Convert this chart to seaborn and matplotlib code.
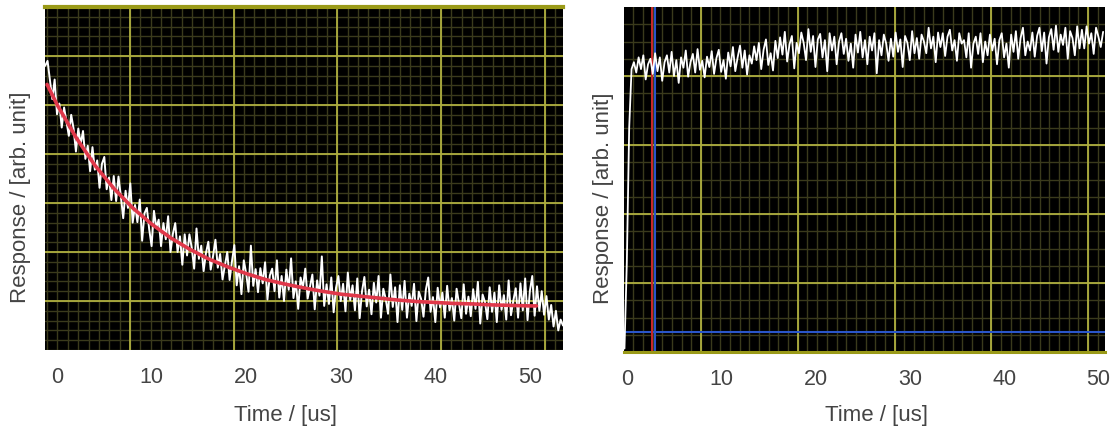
import numpy as np
import pandas as pd
import matplotlib.pyplot as plt
import seaborn as sns

# left panel: decay trace, sampled every 0.25 us starting at -1.25 us
decay_t0, decay_dt = -1.25, 0.25
decay_signal = [
    5.80, 5.90, 5.51, 5.12, 5.52, 4.81, 5.03, 4.54, 4.95, 4.66,
    4.37, 4.80, 4.52, 4.05, 4.52, 4.20, 4.47, 3.90, 4.17, 3.65,
    4.14, 3.68, 3.87, 3.31, 3.80, 3.94, 3.28, 3.52, 3.06, 3.55,
    3.04, 3.54, 3.14, 2.69, 3.25, 2.90, 3.40, 2.60, 2.96, 2.61,
    3.07, 2.23, 2.79, 2.90, 2.46, 2.12, 2.84, 2.50, 2.66, 2.12,
    2.59, 2.26, 2.73, 2.00, 2.37, 2.59, 2.00, 2.32, 1.74, 2.36,
    1.93, 2.36, 2.08, 1.66, 2.48, 1.86, 2.13, 1.61, 1.98, 2.21,
    1.64, 1.92, 2.25, 1.68, 1.96, 1.44, 1.72, 2.00, 1.43, 1.81,
    2.14, 1.32, 1.71, 1.14, 1.83, 1.56, 1.19, 2.13, 1.31, 1.65,
    1.18, 1.67, 1.36, 1.79, 1.03, 1.52, 1.66, 1.20, 1.83, 1.07,
    1.51, 1.00, 1.64, 1.23, 1.87, 1.06, 1.40, 0.84, 1.48, 1.27,
    1.66, 1.05, 1.29, 1.54, 0.83, 1.42, 1.11, 1.91, 0.90, 1.34,
    0.94, 1.48, 0.77, 1.27, 1.51, 1.00, 1.35, 0.79, 1.58, 1.02,
    1.32, 0.81, 1.46, 0.65, 1.20, 1.49, 0.89, 1.23, 0.73, 1.37,
    0.97, 1.51, 0.66, 1.25, 1.05, 0.74, 1.54, 0.88, 1.28, 0.57,
    1.32, 0.82, 1.41, 0.66, 1.15, 0.90, 1.35, 0.59, 1.19, 1.04,
    0.68, 1.23, 1.48, 0.78, 1.08, 0.57, 1.27, 0.87, 1.17, 0.66,
    1.31, 0.81, 1.06, 0.60, 1.25, 0.95, 0.65, 1.34, 0.74, 1.09,
    0.69, 1.24, 0.84, 1.39, 0.54, 1.13, 0.98, 0.63, 1.28, 0.78,
    1.17, 0.57, 1.32, 0.82, 1.12, 0.62, 1.42, 0.71, 1.01, 1.26,
    0.66, 1.36, 0.81, 1.46, 0.61, 1.21, 1.51, 0.70, 1.30, 0.80,
    1.20, 0.72, 1.10, 0.62, 0.92, 0.48, 0.80, 0.40, 0.62, 0.50,
]

# red fitted curve on the left panel
fit_t = [-1.05, 0, 2, 4, 6, 8, 10, 12, 14, 16, 18, 20, 22, 24, 26,
         28, 30, 32, 34, 36, 38, 40, 42, 44, 46, 48, 50, 50.7]
fit_y = [5.42, 5.01, 4.34, 3.77, 3.30, 2.90, 2.57, 2.29, 2.06, 1.86,
         1.70, 1.56, 1.44, 1.35, 1.27, 1.20, 1.14, 1.10, 1.06, 1.02,
         0.99, 0.97, 0.95, 0.94, 0.92, 0.91, 0.90, 0.90]

# right panel: step response, sampled every 0.25 us starting at -0.25 us
step_t0, step_dt = -0.25, 0.25
step_signal = [
    0.05, 1.30, 3.25, 4.10,
    4.20, 4.05, 4.27, 4.10, 4.30, 3.95, 4.17, 4.25, 4.03, 4.33,
    4.07, 4.27, 3.93, 4.20, 4.30, 4.05, 4.35, 4.00, 4.23, 3.90,
    4.27, 4.12, 4.37, 3.99, 4.20, 4.32, 4.05, 4.39, 4.09, 4.22,
    3.98, 4.28, 4.13, 4.36, 4.03, 4.26, 4.38, 4.06, 4.23, 3.96,
    4.34, 4.14, 4.42, 4.07, 4.27, 4.44, 4.12, 4.37, 4.02, 4.30,
    4.18, 4.43, 4.23, 4.48, 4.10, 4.38, 4.53, 4.16, 4.33, 4.08,
    4.51, 4.26, 4.56, 4.31, 4.64, 4.21, 4.46, 4.58, 4.11, 4.48,
    4.33, 4.63, 4.48, 4.23, 4.68, 4.35, 4.58, 4.13, 4.53, 4.61,
    4.27, 4.52, 4.07, 4.62, 4.37, 4.57, 4.17, 4.50, 4.62, 4.32,
    4.54, 4.22, 4.47, 4.12, 4.60, 4.34, 4.64, 4.27, 4.52, 4.17,
    4.57, 4.37, 4.62, 4.04, 4.52, 4.30, 4.60, 4.47, 4.22, 4.54,
    4.28, 4.63, 4.35, 4.53, 4.13, 4.58, 4.48, 4.23, 4.65, 4.33,
    4.55, 4.25, 4.60, 4.50, 4.33, 4.70, 4.40, 4.57, 4.20, 4.63,
    4.42, 4.62, 4.29, 4.57, 4.67, 4.37, 4.52, 4.22, 4.62, 4.47,
    4.52, 4.27, 4.62, 4.12, 4.47, 4.57, 4.32, 4.62, 4.20, 4.50,
    4.30, 4.60, 4.37, 4.54, 4.17, 4.52, 4.62, 4.27, 4.47, 4.12,
    4.60, 4.35, 4.65, 4.25, 4.55, 4.70, 4.30, 4.50, 4.37, 4.63,
    4.28, 4.58, 4.70, 4.36, 4.63, 4.18, 4.56, 4.68, 4.38, 4.73,
    4.35, 4.60, 4.45, 4.70, 4.25, 4.65, 4.55, 4.30, 4.72, 4.40,
    4.67, 4.40, 4.72, 4.47, 4.62, 4.32, 4.70, 4.57, 4.42, 4.64,
]
cursor_red_t = 2.7
cursor_blue_t = 3.0
baseline_level = 0.29

time_ticks = [0, 10, 20, 30, 40, 50]

decay = pd.DataFrame({"t": decay_t0 + decay_dt * np.arange(len(decay_signal)),
                      "y": decay_signal})
fit = pd.DataFrame({"t": fit_t, "y": fit_y})
step = pd.DataFrame({"t": step_t0 + step_dt * np.arange(len(step_signal)),
                     "y": step_signal})

sns.set_theme(style="white")
plt.rcParams["font.family"] = ["Liberation Sans", "DejaVu Sans"]
text_col = "#444444"
major_col = "#b0b040"
minor_col = "#3a3a1c"

fig = plt.figure(figsize=(11.17, 4.34), dpi=100)
ax1 = fig.add_axes([45 / 1117, 1 - 350 / 434, 518 / 1117, 343 / 434])
ax2 = fig.add_axes([624 / 1117, 1 - 352 / 434, 481 / 1117, 345 / 434])


def draw_grid(ax, xlim, ylim, vmajor, vstep, hmajor_step, hminor):
    # instrument grid does not follow the tick labels
    first = vmajor[0]
    vminor = np.arange(first - vstep * 20, xlim[1], vstep / 10)
    for x in vminor:
        if xlim[0] < x < xlim[1]:
            ax.axvline(x, color=minor_col, lw=1.0, zorder=0)
    for y in np.arange(ylim[0], ylim[1], hminor):
        ax.axhline(y, color=minor_col, lw=1.0, zorder=0)
    for x in vmajor:
        ax.axvline(x, color=major_col, lw=1.3, zorder=1)
    for y in np.arange(ylim[0] + hmajor_step, ylim[1], hmajor_step):
        ax.axhline(y, color=major_col, lw=1.3, zorder=1)


# left panel
ax1.set_facecolor("black")
ax1.set_xlim(-1.27, 53.5)
ax1.set_ylim(0, 7)
draw_grid(ax1, (-1.27, 53.5), (0, 7), [7.72, 18.68, 29.65, 40.6, 51.55], 10.96, 1, 0.2)
sns.lineplot(data=decay, x="t", y="y", ax=ax1, color="white", lw=1.4, zorder=3)
sns.lineplot(data=fit, x="t", y="y", ax=ax1, color="#e0384a", lw=2.6, zorder=4)

# right panel
ax2.set_facecolor("black")
ax2.set_xlim(-0.3, 50.7)
ax2.set_ylim(0, 5)
draw_grid(ax2, (-0.3, 50.7), (0, 5), [7.87, 18.13, 28.4, 38.66, 48.9], 10.26, 1, 0.25)
ax2.axhline(baseline_level, color="#2a55c8", lw=1.5, zorder=2)
ax2.axvline(cursor_red_t, color="#c82828", lw=1.5, zorder=2)
ax2.axvline(cursor_blue_t, color="#2a55c8", lw=1.5, zorder=2)
sns.lineplot(data=step, x="t", y="y", ax=ax2, color="white", lw=1.3, zorder=3)

for ax, border, width in [(ax1, "top", 3), (ax2, "bottom", 2.2)]:
    for side in ["top", "bottom", "left", "right"]:
        ax.spines[side].set_visible(side == border)
    ax.spines[border].set_color("#9a9a18")
    ax.spines[border].set_linewidth(width)
    ax.set_xticks(time_ticks)
    ax.set_xticklabels([str(v) for v in time_ticks])
    ax.set_yticks([])
    ax.tick_params(axis="x", length=0, pad=12, labelsize=15.5, labelcolor=text_col)
    ax.set_xlabel("Time / [us]", fontsize=16, color=text_col)
    ax.set_ylabel("Response / [arb. unit]", fontsize=16, color=text_col)

ax1.xaxis.set_label_coords(0.465, -0.16)
ax1.yaxis.set_label_coords(-0.027, 0.446)
ax2.xaxis.set_label_coords(0.524, -0.155)
ax2.yaxis.set_label_coords(-0.021, 0.446)

plt.savefig("out.png", dpi=100)
